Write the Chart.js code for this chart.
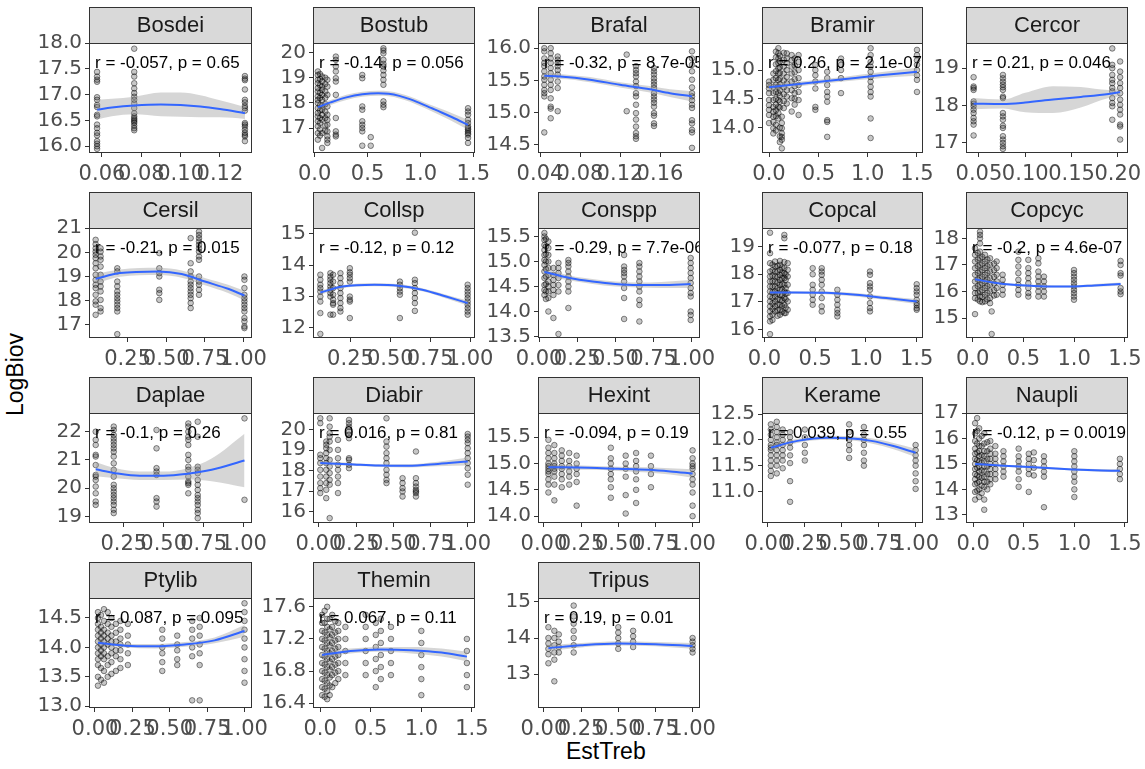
<!DOCTYPE html>
<html>
<head>
<meta charset="utf-8">
<script src="https://cdn.jsdelivr.net/npm/chart.js@4.4.1/dist/chart.umd.min.js"></script>
<style>
  body { margin: 0; background: #fff; width: 1145px; height: 769px; position: relative; overflow: hidden; }
  .axis-title { position: absolute; font-family: "Liberation Sans", Arial, sans-serif; font-size: 23px; color: #000; white-space: nowrap; }
  #xTitle { left: 566px; top: 738px; }
  #yTitle { left: -26px; top: 361px; transform: rotate(-90deg); }
</style>
</head>
<body>
<div class="axis-title" id="xTitle">EstTreb</div>
<div class="axis-title" id="yTitle">LogBiov</div>
<script>
// facet names and stat_cor labels
const speciesNames = ['Bosdei', 'Bostub', 'Brafal', 'Bramir', 'Cercor',
  'Cersil', 'Collsp', 'Conspp', 'Copcal', 'Copcyc',
  'Daplae', 'Diabir', 'Hexint', 'Kerame', 'Naupli',
  'Ptylib', 'Themin', 'Tripus'];
const statLabels = ['r = -0.057, p = 0.65', 'r = -0.14, p = 0.056', 'r = -0.32, p = 8.7e-05', 'r = 0.26, p = 2.1e-07', 'r = 0.21, p = 0.046',
  'r = -0.21, p = 0.015', 'r = -0.12, p = 0.12', 'r = -0.29, p = 7.7e-06', 'r = -0.077, p = 0.18', 'r = -0.2, p = 4.6e-07',
  'r = -0.1, p = 0.26', 'r = 0.016, p = 0.81', 'r = -0.094, p = 0.19', 'r = 0.039, p = 0.55', 'r = -0.12, p = 0.0019',
  'r = 0.087, p = 0.095', 'r = 0.067, p = 0.11', 'r = 0.19, p = 0.01'];

// axis limits and ticks (free scales per facet)
const xLimits = [[0.0534, 0.1363], [-0.016, 1.516], [0.038, 0.200], [-0.071, 1.561], [0.036, 0.211],
  [0.0, 1.055], [0.015, 1.031], [-0.007, 1.054], [-0.023, 1.562], [-0.066, 1.53],
  [0.032, 1.053], [-0.04, 1.049], [-0.04, 1.05], [-0.04, 1.05], [-0.07, 1.53],
  [-0.04, 1.05], [-0.07, 1.53], [-0.04, 1.05]];
const yLimits = [[15.87, 18.0], [16.01, 20.38], [14.37, 16.08], [13.56, 15.47], [16.73, 19.675],
  [16.45, 21.01], [11.66, 15.19], [13.47, 15.67], [15.70, 19.67], [14.25, 18.39],
  [18.77, 22.66], [15.43, 20.83], [13.87, 15.96], [10.39, 12.52], [12.68, 17.0],
  [12.97, 14.84], [16.34, 17.71], [12.06, 15.11]];
const xTickText = [['0.06', '0.08', '0.10', '0.12'], ['0.0', '0.5', '1.0', '1.5'], ['0.04', '0.08', '0.12', '0.16'], ['0.0', '0.5', '1.0', '1.5'], ['0.05', '0.10', '0.15', '0.20'],
  ['0.25', '0.50', '0.75', '1.00'], ['0.25', '0.50', '0.75', '1.00'], ['0.00', '0.25', '0.50', '0.75', '1.00'], ['0.0', '0.5', '1.0', '1.5'], ['0.0', '0.5', '1.0', '1.5'],
  ['0.25', '0.50', '0.75', '1.00'], ['0.00', '0.25', '0.50', '0.75', '1.00'], ['0.00', '0.25', '0.50', '0.75', '1.00'], ['0.00', '0.25', '0.50', '0.75', '1.00'], ['0.0', '0.5', '1.0', '1.5'],
  ['0.00', '0.25', '0.50', '0.75', '1.00'], ['0.0', '0.5', '1.0', '1.5'], ['0.00', '0.25', '0.50', '0.75', '1.00']];
const yTickText = [['16.0', '16.5', '17.0', '17.5', '18.0'], ['17', '18', '19', '20'], ['14.5', '15.0', '15.5', '16.0'], ['14.0', '14.5', '15.0'], ['17', '18', '19'],
  ['17', '18', '19', '20', '21'], ['12', '13', '14', '15'], ['13.5', '14.0', '14.5', '15.0', '15.5'], ['16', '17', '18', '19'], ['15', '16', '17', '18'],
  ['19', '20', '21', '22'], ['16', '17', '18', '19', '20'], ['14.0', '14.5', '15.0', '15.5'], ['11.0', '11.5', '12.0', '12.5'], ['13', '14', '15', '16', '17'],
  ['13.0', '13.5', '14.0', '14.5'], ['16.4', '16.8', '17.2', '17.6'], ['13', '14', '15']];

// observations: [EstTreb, [LogBiov ...]]
const bosdeiPts = [[0.0575, [17.44, 17.35, 17.29, 17.25, 16.95, 16.90, 16.80, 16.76, 16.61, 16.58, 16.42, 16.35, 16.26, 16.21, 16.10, 16.05, 16.0, 15.95]],
  [0.0764, [17.89, 17.44, 17.35, 17.22, 17.12, 17.03, 16.96, 16.90, 16.83, 16.74, 16.64, 16.58, 16.54, 16.51, 16.48, 16.45, 16.40, 16.35, 16.31]],
  [0.1327, [17.36, 17.31, 17.28, 17.10, 16.90, 16.85, 16.78, 16.74, 16.69, 16.45, 16.42, 16.38, 16.32, 16.26, 16.22, 16.19, 16.10]]];
const bostubPts = [[0.03, [19.25, 19.11, 18.92, 18.78, 18.59, 18.45, 18.26, 18.12, 17.99, 17.79, 17.60, 17.46, 17.27, 17.07, 16.80, 16.54]],
  [0.05, [19.15, 18.95, 18.70, 18.40, 18.20, 17.90, 17.70, 17.40, 17.20, 16.95, 16.70]],
  [0.07, [19.05, 18.85, 18.65, 18.52, 18.32, 18.12, 17.89, 17.73, 17.53, 17.33, 16.80, 16.21]],
  [0.10, [19.0, 18.75, 18.45, 18.20, 17.95, 17.65, 17.40, 17.10, 16.90]],
  [0.12, [18.92, 18.65, 18.32, 17.86, 17.53, 17.33, 17.13, 16.87, 16.67, 16.54, 16.41]],
  [0.20, [19.84, 19.71, 19.45, 19.25, 18.98, 18.85, 18.32, 17.40, 16.87, 16.74, 16.67]],
  [0.45, [19.11, 18.98, 17.86, 17.73, 17.27, 17.13, 17.00, 16.87, 16.30]],
  [0.53, [16.64, 16.30]],
  [0.65, [20.17, 20.08, 19.97, 19.71, 19.55, 19.45, 19.29, 19.11, 18.92, 18.72, 18.06, 17.93, 17.83]],
  [1.45, [17.79, 17.66, 17.53, 17.33, 17.20, 17.07, 17.00, 16.94, 16.87, 16.80, 16.74, 16.61, 16.41]]];
const brafalPts = [[0.0443, [16.0, 15.95, 15.84, 15.77, 15.72, 15.64, 15.56, 15.51, 15.43, 15.35, 15.30, 15.25, 14.69]],
  [0.0507, [16.0, 15.92, 15.84, 15.77, 15.69, 15.61, 15.51, 15.43, 15.35, 15.22, 15.09, 15.06, 14.91]],
  [0.0577, [15.87, 15.82, 15.77, 15.72, 15.66, 15.59, 15.48, 15.38, 15.02]],
  [0.1267, [15.90, 15.02]],
  [0.136, [15.72, 15.66, 15.61, 15.56, 15.48, 15.41, 15.30, 15.25, 15.12, 14.99, 14.89, 14.78, 14.68, 14.63, 14.59]],
  [0.154, [15.69, 15.64, 15.59, 15.53, 15.48, 15.43, 15.38, 15.30, 15.25, 15.20, 15.15, 15.09, 14.99, 14.95, 14.83, 14.79]],
  [0.192, [15.95, 15.84, 15.74, 15.64, 15.51, 15.39, 15.30, 15.25, 15.19, 15.12, 15.07, 14.88, 14.83, 14.73, 14.69, 14.45]]];
const bramirPts = [[0.0, [14.80, 14.74, 14.68, 14.60, 14.48, 14.39, 14.31, 14.22, 14.08]],
  [0.044, [14.94, 14.83, 14.71, 14.60, 14.48, 14.36, 14.28, 14.19, 14.10, 13.99, 13.90]],
  [0.07, [15.32, 15.22, 15.10, 14.98, 14.86, 14.74, 14.62, 14.50, 14.40, 14.30, 14.20, 14.05, 13.95]],
  [0.095, [15.38, 15.29, 15.20, 15.12, 15.03, 14.94, 14.83, 14.71, 14.60, 14.48, 14.36, 14.25, 14.16]],
  [0.11, [15.25, 15.15, 15.05, 14.95, 14.85, 14.75, 14.65, 14.55, 14.45, 14.35, 14.0, 13.85, 13.75]],
  [0.13, [14.19, 14.08, 13.99, 13.90, 13.84, 13.79, 13.64]],
  [0.15, [15.30, 15.18, 15.06, 14.94, 14.82, 14.70, 14.58, 14.46, 14.34]],
  [0.18, [15.29, 15.20, 15.12, 15.0, 14.88, 14.77, 14.65, 14.54, 14.42]],
  [0.23, [15.26, 15.17, 15.06, 14.94, 14.80, 14.65, 14.51, 14.28]],
  [0.26, [15.20, 15.08, 14.96, 14.84, 14.72, 14.60, 14.50, 14.40]],
  [0.30, [15.26, 15.14, 15.0, 14.86, 14.74, 14.62, 14.48, 14.22]],
  [0.47, [15.09, 15.0, 14.91, 14.80, 14.68, 14.36, 14.31]],
  [0.59, [14.97, 14.86, 14.74, 14.62, 14.54, 14.45, 14.13, 14.10, 13.84]],
  [0.73, [15.20, 15.09, 15.0, 14.86, 14.60]],
  [1.03, [15.38, 15.26, 15.14, 15.06, 14.97, 14.88, 14.80, 14.71, 14.62, 14.54, 14.16, 13.82]],
  [1.50, [15.35, 15.26, 15.17, 15.09, 15.0, 14.91, 14.83, 14.62]]];
const cercorPts = [[0.0442, [18.76, 18.51, 18.47, 18.42, 18.11, 18.05, 17.98, 17.89, 17.80, 17.67, 17.58, 17.49, 17.20]],
  [0.0759, [18.82, 18.73, 18.64, 18.56, 18.49, 18.42, 18.24, 18.20, 17.80, 17.71, 17.62, 17.46, 17.40, 17.18, 17.09, 17.0, 16.91, 16.84]],
  [0.194, [19.53, 19.09, 19.0, 18.82, 18.69, 18.60, 18.47, 18.38, 18.20, 18.07, 17.98, 17.62]],
  [0.2025, [19.18, 18.91, 18.76, 18.60, 18.47, 18.33, 18.16, 18.02, 17.89, 17.76, 17.49, 17.44, 17.09]]];
const cersilPts = [[0.043, [20.52, 20.34, 20.17, 20.03, 19.90, 19.76, 19.55, 19.34, 19.07, 18.86, 18.66, 18.52, 18.24, 17.97, 17.83, 17.41]],
  [0.075, [20.17, 20.03, 19.83, 19.69, 19.41, 19.07, 18.79, 18.59, 18.38, 18.03, 17.69, 17.55]],
  [0.183, [19.34, 19.21, 18.79, 18.59, 18.38, 18.24, 18.10, 17.97, 17.83, 17.69, 17.55, 16.61]],
  [0.455, [19.97, 19.34, 19.14, 19.0, 18.45, 18.31, 18.03]],
  [0.658, [20.59, 19.55, 19.21, 19.0, 18.79, 18.66, 18.52, 18.38, 18.24, 18.10, 17.90, 17.69]],
  [0.712, [20.86, 20.72, 20.59, 20.45, 20.31, 20.17, 20.03, 19.83, 19.69, 19.0, 18.79, 18.66, 18.45, 18.24]],
  [1.006, [19.0, 18.86, 18.52, 18.24, 18.10, 17.97, 17.83, 17.69, 17.55, 17.28, 17.14, 16.93, 16.86]]];
const collspPts = [[0.061, [13.69, 13.53, 13.37, 13.26, 13.15, 12.99, 12.83, 12.46, 11.79]],
  [0.124, [13.74, 13.63, 13.53, 13.42, 13.31, 13.21, 13.10, 12.99, 12.41]],
  [0.141, [13.69, 13.47, 13.26, 13.05, 12.89, 12.78, 12.73, 12.41]],
  [0.187, [13.74, 13.58, 13.42, 13.26, 13.10, 12.94, 12.78, 12.62, 12.51]],
  [0.246, [13.90, 13.77, 13.69, 13.58, 13.47, 12.99, 12.89, 12.83, 12.30]],
  [0.56, [13.47, 13.37, 13.26, 13.15, 13.05, 12.30]],
  [0.654, [15.04, 13.53, 13.42, 13.26, 13.10, 12.94, 12.78, 12.53]],
  [0.985, [13.37, 13.26, 13.15, 13.05, 12.94, 12.83, 12.73, 12.62, 12.51, 12.41]]];
const consppPts = [[0.035, [15.57, 15.50, 15.43, 15.33, 15.23, 15.13, 15.03, 14.93, 14.80, 14.67, 14.53, 14.43, 14.33]],
  [0.045, [15.45, 15.30, 15.15, 15.0, 14.85, 14.70, 14.55, 14.40, 14.25]],
  [0.061, [15.40, 15.27, 15.13, 15.0, 14.87, 14.73, 14.60, 14.50, 14.40, 14.27, 14.0]],
  [0.094, [14.87, 14.73, 14.63, 14.53, 14.43, 14.33, 13.87]],
  [0.127, [14.97, 14.87, 14.77, 14.67, 14.53, 14.40, 13.55]],
  [0.192, [15.03, 14.97, 14.90, 14.80, 14.70, 14.60, 14.50, 14.40, 14.07]],
  [0.557, [15.13, 14.90, 14.83, 14.77, 14.70, 14.60, 14.47, 14.27, 13.85]],
  [0.657, [14.97, 14.90, 14.80, 14.70, 14.60, 14.50, 14.40, 14.23, 14.13, 13.80]],
  [0.993, [15.07, 14.97, 14.87, 14.77, 14.67, 14.57, 14.47, 14.37, 14.30, 14.0, 13.93, 13.83]]];
const copcalPts = [[0.056, [19.50, 18.76, 18.40, 18.10, 17.92, 17.74, 17.56, 17.38, 17.20, 17.02, 16.84, 16.66, 16.48, 16.30, 15.84]],
  [0.08, [18.35, 18.15, 17.95, 17.75, 17.55, 17.35, 17.15, 16.95, 16.75, 16.55, 16.35]],
  [0.105, [18.46, 18.28, 18.10, 17.92, 17.74, 17.56, 17.38, 17.20, 17.02, 16.84, 16.66]],
  [0.13, [18.30, 18.10, 17.90, 17.70, 17.50, 17.30, 17.10, 16.90, 16.70, 16.50]],
  [0.154, [18.48, 18.34, 18.16, 17.98, 17.80, 17.62, 17.44, 17.26, 17.08, 16.90, 16.72, 16.54]],
  [0.175, [18.25, 18.05, 17.85, 17.65, 17.45, 17.25, 17.05, 16.85, 16.65]],
  [0.197, [19.42, 19.30, 18.44, 18.22, 18.04, 17.86, 17.62, 17.38, 17.14, 16.90, 16.60]],
  [0.21, [18.0, 17.8, 17.5, 17.3, 17.1, 16.8, 16.6]],
  [0.23, [18.40, 18.16, 17.92, 17.62, 17.32, 17.02, 16.72]],
  [0.476, [18.22, 18.0, 17.62, 17.44, 17.26, 17.08, 16.90]],
  [0.565, [18.22, 18.10, 17.98, 17.80, 17.62, 17.38, 17.14, 16.84, 16.66]],
  [0.719, [17.44, 17.26, 17.08, 16.90, 16.72, 16.60, 16.48]],
  [1.04, [18.10, 17.98, 17.68, 17.56, 17.44, 17.20, 16.96, 16.78, 16.66]],
  [1.50, [17.64, 17.50, 17.38, 17.26, 17.08, 16.96, 16.88, 16.78, 16.72]]];
const copcycPts = [[0.023, [17.63, 17.38, 17.13, 16.88, 16.63, 16.38, 16.13, 15.94, 15.75, 15.15]],
  [0.05, [17.45, 17.2, 16.95, 16.7, 16.45, 16.2, 15.95, 15.7]],
  [0.072, [18.25, 18.13, 18.0, 17.81, 17.50, 17.25, 17.0, 16.75, 16.50, 16.25, 16.0, 15.81, 15.63]],
  [0.095, [17.3, 17.05, 16.8, 16.55, 16.3, 16.05, 15.8, 15.6]],
  [0.121, [17.38, 17.13, 16.88, 16.63, 16.38, 16.13, 15.88, 15.63]],
  [0.145, [17.2, 16.95, 16.7, 16.45, 16.2, 15.95, 15.7]],
  [0.171, [17.25, 17.0, 16.75, 16.50, 16.25, 16.0, 15.75, 15.56]],
  [0.187, [15.25, 14.40]],
  [0.21, [17.05, 16.8, 16.55, 16.3, 16.05, 15.85]],
  [0.236, [17.13, 16.88, 16.63, 16.38, 16.13, 15.88]],
  [0.295, [16.63, 16.44, 16.25, 16.06, 15.88]],
  [0.45, [17.50, 17.19, 16.94, 16.69, 16.44, 16.25, 16.06, 15.88]],
  [0.548, [17.19, 16.88, 16.69, 16.50, 16.31, 16.13, 15.94, 15.81]],
  [0.647, [17.25, 17.06, 16.75, 16.56, 16.38, 16.19, 16.0, 15.81]],
  [0.702, [16.56, 16.38, 16.19, 16.0, 15.81]],
  [0.998, [16.81, 16.69, 16.56, 16.44, 16.31, 16.19, 16.06, 15.94, 15.81, 15.69]],
  [1.457, [17.15, 17.0, 16.69, 16.60, 16.13, 16.0, 15.90]]];
const daplaePts = [[0.074, [22.0, 21.71, 21.53, 21.18, 21.12, 20.82, 20.47, 20.41, 20.29, 20.06, 19.82, 19.53, 19.41]],
  [0.187, [22.18, 22.06, 21.88, 21.76, 21.65, 21.53, 21.41, 21.29, 21.12, 20.88, 20.65, 20.41, 20.12, 20.0, 19.88, 19.76, 19.65, 19.53, 19.41, 19.24, 19.12]],
  [0.455, [22.06, 21.41, 20.71, 20.59, 20.47, 19.65, 19.53, 19.35]],
  [0.654, [22.29, 22.18, 22.0, 21.82, 21.71, 21.53, 21.18, 21.0, 20.76, 20.65, 20.41, 20.24, 20.18, 20.12, 19.82]],
  [0.713, [22.35, 21.82, 20.76, 20.65, 20.53, 20.29, 20.12, 19.94, 19.76, 19.65, 19.53, 19.41, 19.24, 19.12, 18.94]],
  [1.006, [22.47, 19.59]]];
const diabirPts = [[0.009, [20.57, 20.33, 18.78, 18.61, 18.37, 18.04, 17.71, 17.39, 17.14, 16.90]],
  [0.049, [19.43, 19.27, 19.10, 18.86, 18.61, 18.37, 18.04, 17.71, 17.39, 17.06, 16.65]],
  [0.072, [20.57, 20.16, 19.84, 19.67, 19.43, 19.02, 18.53, 18.20, 17.88, 17.55, 17.31, 15.67]],
  [0.128, [19.51, 19.02, 18.61, 18.29, 18.04, 17.71, 17.39, 16.90]],
  [0.202, [20.49, 20.33, 20.16, 19.92, 19.76, 19.59, 18.61, 18.53, 18.29, 18.12]],
  [0.454, [20.57, 19.43, 19.18, 18.86, 18.61, 18.37, 18.04, 17.80, 17.55, 17.39]],
  [0.562, [17.63, 17.39, 17.14, 16.98, 16.73]],
  [0.652, [18.94, 17.63, 17.39, 17.22, 17.06, 16.98, 16.90, 16.73]],
  [1.0, [19.80, 19.67, 19.51, 19.35, 19.10, 18.86, 18.61, 18.37, 18.12, 17.80, 17.31]]];
const hexintPts = [[0.03, [15.45, 15.3, 15.2, 15.1, 15.0, 14.95, 14.9, 14.85, 14.8, 14.7, 14.6, 14.45]],
  [0.07, [15.35, 15.2, 15.1, 15.0, 14.95, 14.9, 14.85, 14.75, 14.6, 14.3]],
  [0.12, [15.25, 15.15, 15.05, 14.95, 14.9, 14.8, 14.7, 14.55]],
  [0.17, [15.2, 15.05, 14.95, 14.85, 14.75, 14.6]],
  [0.22, [15.15, 15.0, 14.9, 14.8, 14.65, 14.2]],
  [0.45, [15.3, 15.1, 15.0, 14.9, 14.8, 14.7, 14.55, 14.35]],
  [0.55, [15.15, 15.0, 14.9, 14.75, 14.4, 14.05]],
  [0.62, [15.2, 15.05, 14.95, 14.85, 14.7, 14.5, 14.25]],
  [0.72, [15.15, 14.95, 14.8, 14.55]],
  [1.0, [15.25, 15.1, 15.0, 14.95, 14.9, 14.8, 14.7, 14.6, 14.45, 14.2, 14.0]]];
const keramePts = [[0.02, [12.3, 12.2, 12.1, 12.0, 11.9, 11.85, 11.8, 11.7, 11.6, 11.5, 11.4, 11.3]],
  [0.06, [12.35, 12.25, 12.15, 12.05, 11.95, 11.9, 11.8, 11.7, 11.6, 11.5, 11.35]],
  [0.10, [12.2, 12.1, 12.0, 11.9, 11.8, 11.7, 11.6, 11.45]],
  [0.15, [12.15, 12.05, 11.95, 11.85, 11.7, 11.55, 11.2, 10.8]],
  [0.25, [12.2, 12.05, 11.9, 11.75, 11.6]],
  [0.55, [12.3, 12.15, 12.0, 11.9, 11.8, 11.65]],
  [0.65, [12.25, 12.1, 12.0, 11.9, 11.75, 11.6, 11.5]],
  [1.0, [11.9, 11.8, 11.7, 11.6, 11.5, 11.35, 11.2, 11.05]]];
const naupliPts = [[0.02, [16.6, 16.2, 15.9, 15.6, 15.4, 15.2, 15.0, 14.8, 14.6, 14.4, 14.2, 13.9, 13.6]],
  [0.04, [16.8, 16.3, 15.8, 15.45, 15.15, 14.85, 14.55, 14.25, 13.95]],
  [0.06, [16.4, 16.0, 15.7, 15.5, 15.3, 15.1, 14.9, 14.7, 14.5, 14.3, 14.0, 13.7]],
  [0.085, [16.1, 15.7, 15.35, 15.05, 14.75, 14.45, 14.15, 13.85]],
  [0.11, [16.2, 15.8, 15.5, 15.3, 15.1, 14.9, 14.7, 14.5, 14.3, 14.1, 13.6, 13.2]],
  [0.14, [15.85, 15.5, 15.2, 14.9, 14.6, 14.3, 14.0]],
  [0.17, [15.9, 15.6, 15.4, 15.2, 15.0, 14.8, 14.6, 14.4, 14.2]],
  [0.22, [15.7, 15.4, 15.2, 15.0, 14.8, 14.6, 14.4]],
  [0.30, [15.5, 15.3, 15.1, 14.9, 14.7, 14.5]],
  [0.45, [15.6, 15.3, 15.1, 14.9, 14.7, 14.4, 14.1]],
  [0.55, [15.4, 15.2, 15.0, 14.8, 14.6, 13.9]],
  [0.60, [15.45, 15.15, 14.85, 14.55]],
  [0.70, [15.3, 15.1, 14.9, 14.7, 14.5, 13.3]],
  [1.0, [15.5, 15.3, 15.1, 14.9, 14.7, 14.5, 14.3, 14.0, 13.7]],
  [1.45, [15.2, 15.0, 14.8, 14.6, 14.4]]];
const ptylibPts = [[0.02, [14.6, 14.5, 14.4, 14.3, 14.2, 14.1, 14.0, 13.9, 13.8, 13.7, 13.5, 13.35]],
  [0.04, [14.55, 14.35, 14.25, 14.15, 14.05, 13.95, 13.85, 13.65, 13.45]],
  [0.06, [14.65, 14.45, 14.3, 14.2, 14.1, 14.0, 13.9, 13.8, 13.6, 13.4]],
  [0.085, [14.6, 14.4, 14.25, 14.15, 14.05, 13.85, 13.7, 13.5]],
  [0.11, [14.5, 14.35, 14.2, 14.1, 14.0, 13.9, 13.75, 13.55]],
  [0.14, [14.4, 14.25, 14.1, 13.95, 13.85, 13.6]],
  [0.17, [14.45, 14.3, 14.15, 14.05, 13.95, 13.8, 13.65]],
  [0.22, [14.4, 14.2, 14.05, 13.9, 13.7]],
  [0.45, [14.3, 14.15, 14.0, 13.9, 13.75, 13.6]],
  [0.55, [14.2, 14.05, 13.95, 13.8, 13.7]],
  [0.65, [14.45, 14.3, 14.15, 14.0, 13.85, 13.1]],
  [0.70, [14.5, 14.35, 14.2, 14.05, 13.9, 13.7, 13.1]],
  [1.0, [14.75, 14.6, 14.45, 14.3, 14.15, 14.0, 13.8, 13.6, 13.4]]];
const theminPts = [[0.02, [17.5, 17.4, 17.3, 17.2, 17.1, 17.0, 16.9, 16.8, 16.7, 16.6, 16.5]],
  [0.045, [17.55, 17.4, 17.28, 17.18, 17.08, 16.98, 16.88, 16.78, 16.68, 16.58, 16.48]],
  [0.07, [17.6, 17.45, 17.35, 17.25, 17.15, 17.05, 16.95, 16.85, 16.75, 16.65, 16.55, 16.45]],
  [0.095, [17.45, 17.32, 17.22, 17.12, 17.02, 16.92, 16.82, 16.72, 16.62, 16.5]],
  [0.12, [17.5, 17.35, 17.25, 17.15, 17.05, 16.95, 16.85, 16.75, 16.6]],
  [0.15, [17.42, 17.28, 17.18, 17.08, 16.98, 16.88, 16.78, 16.65]],
  [0.18, [17.4, 17.3, 17.2, 17.1, 17.0, 16.9, 16.8, 16.7]],
  [0.25, [17.35, 17.2, 17.05, 16.9, 16.75]],
  [0.45, [17.5, 17.35, 17.2, 17.05, 16.9, 16.75]],
  [0.55, [17.4, 17.25, 17.1, 16.95, 16.8, 16.6]],
  [0.60, [17.45, 17.3, 17.15, 17.0, 16.85, 16.7]],
  [0.70, [17.35, 17.2, 17.05, 16.9, 16.75]],
  [1.0, [17.3, 17.15, 17.0, 16.85, 16.7, 16.5]],
  [1.45, [17.2, 17.05, 16.9, 16.75, 16.6]]];
const tripusPts = [[0.03, [14.3, 14.0, 13.85, 13.7, 13.55, 13.3]],
  [0.07, [14.2, 14.0, 13.8, 13.6, 13.4, 12.8]],
  [0.10, [14.1, 13.9, 13.75, 13.6]],
  [0.20, [14.9, 14.6, 14.4, 14.2, 14.0, 13.8, 13.6]],
  [0.50, [14.3, 14.15, 14.0, 13.85, 13.7]],
  [0.60, [14.2, 14.05, 13.9, 13.75]],
  [1.0, [14.0, 13.9, 13.8, 13.7, 13.6]]];

// loess fits: [x, fit, lower, upper]
const bosdeiFit = [[0.0575, 16.71, 16.52, 16.90], [0.065, 16.75, 16.58, 16.92], [0.0764, 16.79, 16.62, 16.96], [0.09, 16.81, 16.58, 17.04],
  [0.10, 16.80, 16.57, 17.04], [0.11, 16.77, 16.56, 16.99], [0.12, 16.72, 16.56, 16.89], [0.1327, 16.64, 16.53, 16.76]];
const bostubFit = [[0.03, 17.83, 17.70, 17.96], [0.15, 18.02, 17.92, 18.12], [0.3, 18.22, 18.12, 18.32], [0.45, 18.34, 18.24, 18.44],
  [0.6, 18.38, 18.28, 18.48], [0.7, 18.36, 18.26, 18.46], [0.8, 18.28, 18.18, 18.38], [0.9, 18.15, 18.05, 18.25], [1.0, 17.98, 17.87, 18.09],
  [1.1, 17.80, 17.68, 17.92], [1.2, 17.62, 17.48, 17.76], [1.3, 17.43, 17.27, 17.59], [1.45, 17.13, 16.93, 17.33]];
const brafalFit = [[0.0443, 15.57, 15.52, 15.62], [0.06, 15.56, 15.52, 15.60], [0.09, 15.51, 15.47, 15.55], [0.12, 15.43, 15.39, 15.47],
  [0.15, 15.36, 15.31, 15.41], [0.17, 15.30, 15.24, 15.36], [0.192, 15.25, 15.17, 15.33]];
const bramirFit = [[0.0, 14.70, 14.64, 14.76], [0.375, 14.77, 14.73, 14.81], [0.75, 14.84, 14.80, 14.88], [1.125, 14.91, 14.86, 14.96], [1.5, 14.97, 14.90, 15.04]];
const cercorFit = [[0.0442, 18.05, 17.90, 18.20], [0.0759, 18.04, 17.92, 18.16], [0.10, 18.08, 17.82, 18.34], [0.13, 18.16, 17.80, 18.52],
  [0.16, 18.23, 17.95, 18.50], [0.19, 18.31, 18.20, 18.42], [0.2025, 18.36, 18.24, 18.48]];
const cersilFit = [[0.043, 18.90, 18.70, 19.10], [0.2, 19.14, 18.99, 19.29], [0.45, 19.21, 19.06, 19.36], [0.6, 19.10, 18.95, 19.25],
  [0.75, 18.79, 18.64, 18.94], [0.9, 18.49, 18.32, 18.66], [1.006, 18.21, 18.01, 18.41]];
const collspFit = [[0.061, 13.12, 13.05, 13.19], [0.2, 13.31, 13.26, 13.36], [0.4, 13.37, 13.32, 13.42], [0.55, 13.34, 13.29, 13.39],
  [0.7, 13.21, 13.16, 13.26], [0.85, 12.99, 12.93, 13.05], [0.985, 12.78, 12.70, 12.86]];
const consppFit = [[0.035, 14.79, 14.71, 14.87], [0.2, 14.67, 14.62, 14.72], [0.35, 14.60, 14.55, 14.65], [0.5, 14.55, 14.50, 14.60],
  [0.65, 14.53, 14.48, 14.58], [0.8, 14.53, 14.47, 14.59], [0.993, 14.55, 14.47, 14.63]];
const copcalFit = [[0.056, 17.34, 17.29, 17.39], [0.3, 17.34, 17.30, 17.38], [0.6, 17.33, 17.28, 17.38], [0.9, 17.26, 17.20, 17.32],
  [1.2, 17.14, 17.07, 17.21], [1.5, 17.02, 16.93, 17.11]];
const copcycFit = [[0.023, 16.46, 16.41, 16.51], [0.2, 16.34, 16.30, 16.38], [0.4, 16.25, 16.21, 16.29], [0.6, 16.21, 16.17, 16.25],
  [0.8, 16.19, 16.15, 16.23], [1.0, 16.19, 16.15, 16.23], [1.2, 16.23, 16.18, 16.28], [1.457, 16.28, 16.22, 16.34]];
const daplaeFit = [[0.074, 20.67, 20.42, 20.92], [0.2, 20.53, 20.35, 20.71], [0.35, 20.44, 20.29, 20.59], [0.5, 20.44, 20.29, 20.59],
  [0.65, 20.51, 20.31, 20.71], [0.8, 20.65, 20.25, 21.05], [1.006, 20.98, 20.03, 21.93]];
const diabirFit = [[0.009, 18.37, 18.27, 18.47], [0.2, 18.32, 18.25, 18.39], [0.4, 18.25, 18.18, 18.32], [0.6, 18.24, 18.16, 18.32],
  [0.8, 18.33, 18.22, 18.44], [1.0, 18.45, 18.25, 18.65]];
const hexintFit = [[0.03, 14.93, 14.88, 14.98], [0.3, 14.92, 14.88, 14.96], [0.5, 14.90, 14.86, 14.94], [0.7, 14.88, 14.83, 14.93],
  [0.85, 14.85, 14.79, 14.91], [1.0, 14.81, 14.73, 14.89]];
const krameFit = [[0.02, 11.85, 11.80, 11.90], [0.2, 11.98, 11.94, 12.02], [0.4, 12.04, 12.00, 12.08], [0.55, 12.03, 11.99, 12.07],
  [0.7, 11.98, 11.93, 12.03], [0.85, 11.88, 11.82, 11.94], [1.0, 11.75, 11.67, 11.83]];
const naupliFit = [[0.02, 15.00, 14.95, 15.05], [0.3, 14.93, 14.89, 14.97], [0.6, 14.87, 14.83, 14.91], [0.9, 14.80, 14.76, 14.84],
  [1.2, 14.75, 14.70, 14.80], [1.45, 14.73, 14.67, 14.79]];
const ptylibFit = [[0.02, 14.08, 14.04, 14.12], [0.2, 14.03, 14.00, 14.06], [0.4, 14.02, 13.98, 14.06], [0.6, 14.05, 14.01, 14.09],
  [0.8, 14.12, 14.07, 14.17], [1.0, 14.28, 14.18, 14.38]];
const theminFit = [[0.02, 17.00, 16.97, 17.03], [0.3, 17.05, 17.02, 17.08], [0.6, 17.07, 17.04, 17.10], [0.9, 17.06, 17.02, 17.10],
  [1.2, 17.03, 16.98, 17.08], [1.45, 16.98, 16.92, 17.04]];
const tripusFit = [[0.03, 13.72, 13.64, 13.80], [0.25, 13.80, 13.74, 13.86], [0.5, 13.85, 13.79, 13.91], [0.75, 13.83, 13.77, 13.89],
  [1.0, 13.78, 13.70, 13.86]];

const pointSets = [bosdeiPts, bostubPts, brafalPts, bramirPts, cercorPts, cersilPts, collspPts, consppPts, copcalPts, copcycPts,
  daplaePts, diabirPts, hexintPts, keramePts, naupliPts, ptylibPts, theminPts, tripusPts];
const fitSets = [bosdeiFit, bostubFit, brafalFit, bramirFit, cercorFit, cersilFit, collspFit, consppFit, copcalFit, copcycFit,
  daplaeFit, diabirFit, hexintFit, krameFit, naupliFit, ptylibFit, theminFit, tripusFit];

// panel grid (plot area edges in page pixels)
const colLeft = [89, 313, 538, 762, 966];
const colRight = [252, 475, 700, 923, 1128];
const rowTop = [43, 228, 413, 598];
const rowBottom = [153, 338, 523, 708];
const STRIP = 36, YAXW = 70, XAXH = 36, PADR = 40;

Chart.defaults.font.family = '"DejaVu Sans", sans-serif';
Chart.defaults.animation = false;

// strip, panel border and correlation text
const facetDeco = {
  id: 'facetDeco',
  afterDraw(chart, args, opts) {
    const { ctx, chartArea: a } = chart;
    ctx.save();
    ctx.beginPath();
    ctx.rect(a.left, a.top, a.right - a.left, a.bottom - a.top);
    ctx.clip();
    ctx.fillStyle = '#000';
    ctx.font = '17px "Liberation Sans", Arial, sans-serif';
    ctx.textAlign = 'left';
    ctx.textBaseline = 'middle';
    ctx.fillText(opts.stat, a.left + 6, a.top + 20);
    ctx.restore();

    ctx.save();
    ctx.fillStyle = '#d9d9d9';
    ctx.fillRect(a.left, a.top - STRIP, a.right - a.left, STRIP);
    ctx.strokeStyle = '#333333';
    ctx.lineWidth = 1;
    ctx.strokeRect(a.left + 0.5, a.top - STRIP + 0.5, a.right - a.left - 1, STRIP);
    ctx.strokeRect(a.left + 0.5, a.top + 0.5, a.right - a.left - 1, a.bottom - a.top - 1);
    ctx.fillStyle = '#1a1a1a';
    ctx.font = '22px "Liberation Sans", Arial, sans-serif';
    ctx.textAlign = 'center';
    ctx.textBaseline = 'middle';
    ctx.fillText(opts.title, (a.left + a.right) / 2, a.top - STRIP / 2 + 1);
    ctx.restore();
  }
};

function axisOptions(limits, labels, isX) {
  const values = labels.map(Number);
  return {
    type: 'linear',
    position: isX ? 'bottom' : 'left',
    min: limits[0],
    max: limits[1],
    afterBuildTicks: s => { s.ticks = values.map(v => ({ value: v })); },
    afterFit: s => { if (isX) s.height = XAXH; else s.width = YAXW; },
    border: { display: false },
    grid: { display: true, drawOnChartArea: false, drawTicks: true, tickLength: 4, color: '#333333', lineWidth: 1 },
    ticks: {
      autoSkip: false, maxRotation: 0, minRotation: 0, padding: isX ? 5 : 3,
      color: '#4d4d4d', font: { size: isX ? 21 : 20 },
      callback: (v, i) => labels[i]
    }
  };
}

speciesNames.forEach((name, i) => {
  const col = i % 5, row = Math.floor(i / 5);
  const left = colLeft[col], right = colRight[col], top = rowTop[row], bottom = rowBottom[row];
  const w = right - left + YAXW + PADR, h = bottom - top + STRIP + XAXH;
  const cv = document.createElement('canvas');
  cv.width = w;
  cv.height = h;
  cv.style.cssText = `position:absolute;left:${left - YAXW}px;top:${top - STRIP}px;width:${w}px;height:${h}px`;
  document.body.appendChild(cv);

  const pts = [];
  pointSets[i].forEach(([x, ys]) => ys.forEach(y => pts.push({ x, y })));
  const fit = fitSets[i];

  new Chart(cv, {
    type: 'scatter',
    data: {
      datasets: [
        { data: fit.map(f => ({ x: f[0], y: f[1] })), showLine: true, borderColor: '#3366FF', borderWidth: 2,
          pointRadius: 0, cubicInterpolationMode: 'monotone', fill: false, order: 0 },
        { data: fit.map(f => ({ x: f[0], y: f[3] })), showLine: true, borderWidth: 0, borderColor: 'rgba(0,0,0,0)',
          pointRadius: 0, cubicInterpolationMode: 'monotone', fill: '+1', backgroundColor: 'rgba(153,153,153,0.4)', order: 1 },
        { data: fit.map(f => ({ x: f[0], y: f[2] })), showLine: true, borderWidth: 0, borderColor: 'rgba(0,0,0,0)',
          pointRadius: 0, cubicInterpolationMode: 'monotone', fill: false, order: 2 },
        { data: pts, pointRadius: 2.8, backgroundColor: 'rgba(0,0,0,0.22)', borderColor: 'rgba(0,0,0,0.45)',
          borderWidth: 1, order: 3 }
      ]
    },
    options: {
      responsive: false,
      animation: false,
      layout: { padding: { left: 0, top: STRIP, right: PADR, bottom: 0 } },
      plugins: {
        legend: { display: false },
        tooltip: { enabled: false },
        facetDeco: { title: name, stat: statLabels[i] }
      },
      scales: {
        x: axisOptions(xLimits[i], xTickText[i], true),
        y: axisOptions(yLimits[i], yTickText[i], false)
      }
    },
    plugins: [facetDeco]
  });
});
</script>
</body>
</html>
